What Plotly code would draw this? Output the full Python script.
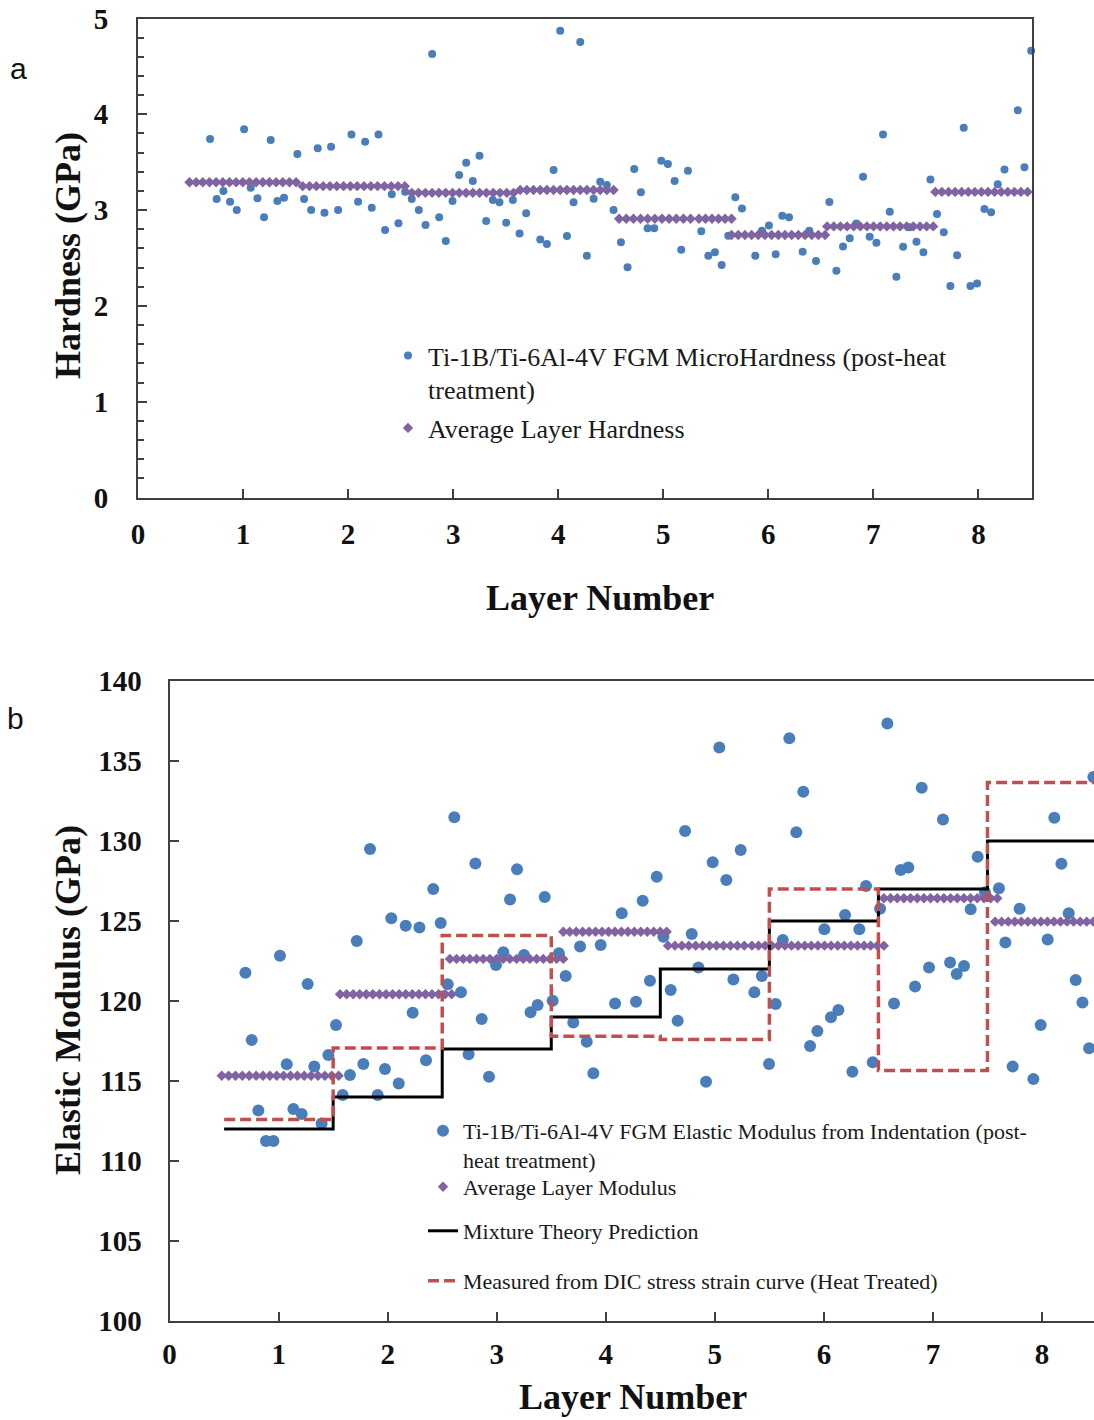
import numpy as np
import plotly.graph_objects as go

# ---------------- (a) micro-hardness ----------------
hard_x = [0.686, 0.749, 0.813, 0.876, 0.940, 1.010, 1.073, 1.137, 1.200, 1.263, 1.327, 1.390, 1.517,
          1.581, 1.648, 1.711, 1.775, 1.838, 1.905, 2.032, 2.095, 2.162, 2.225, 2.289, 2.352, 2.416, 2.479, 2.543,
          2.606, 2.673, 2.737, 2.800, 2.867, 2.930, 2.994, 3.057, 3.124, 3.187, 3.251, 3.314, 3.378, 3.441, 3.505, 3.568,
          3.632, 3.695, 3.829, 3.892, 3.956, 4.019, 4.083, 4.146, 4.210, 4.273, 4.337, 4.400, 4.463, 4.527,
          4.597, 4.660, 4.724, 4.787, 4.851, 4.914, 4.981, 5.044, 5.108, 5.171, 5.235, 5.362, 5.429, 5.492, 5.556, 5.619,
          5.686, 5.749, 5.876, 5.940, 6.006, 6.070, 6.133, 6.197, 6.327, 6.390, 6.454,
          6.581, 6.648, 6.711, 6.775, 6.838, 6.902, 6.965, 7.029, 7.092, 7.156, 7.219, 7.283, 7.346, 7.410, 7.476, 7.543,
          7.606, 7.670, 7.733, 7.797, 7.860, 7.924, 7.987, 8.057, 8.121, 8.184, 8.248, 8.375, 8.438, 8.502]
hard_y = [3.742, 3.116, 3.199, 3.088, 3.001, 3.843, 3.234, 3.123, 2.925, 3.732, 3.095, 3.130, 3.586,
          3.116, 3.001, 3.645, 2.973, 3.662, 3.001, 3.790, 3.088, 3.714, 3.025, 3.790, 2.792, 3.165, 2.862, 3.192,
          3.116, 3.001, 2.844, 4.629, 2.925, 2.678, 3.095, 3.366, 3.495, 3.304, 3.568, 2.886, 3.106, 3.081, 2.869, 3.106,
          2.757, 2.966, 2.694, 2.646, 3.418, 4.873, 2.729, 3.081, 4.754, 2.524, 3.119, 3.297, 3.262, 3.001,
          2.664, 2.403, 3.429, 3.186, 2.810, 2.810, 3.516, 3.481, 3.304, 2.587, 3.411, 2.779, 2.524, 2.559, 2.427, 2.733,
          3.133, 3.018, 2.524, 2.785, 2.838, 2.538, 2.942, 2.925, 2.566, 2.785, 2.468,
          3.085, 2.367, 2.621, 2.705, 2.860, 3.348, 2.722, 2.659, 3.790, 2.984, 2.305, 2.618, 2.820, 2.670, 2.559, 3.320,
          2.959, 2.768, 2.207, 2.528, 3.860, 2.207, 2.235, 3.012, 2.977, 3.269, 3.425, 4.041, 3.446, 4.664]

# layer averages: (first position, last position, number of indents, mean hardness)
hard_avg_start = [0.49, 1.568, 2.606, 3.638, 4.58, 5.34, 5.65, 6.56, 7.59]
hard_avg_end   = [1.505, 2.54, 3.575, 4.527, 5.26, 5.65, 6.54, 7.57, 8.53]
hard_avg_n     = [17, 16, 16, 15, 11, 6, 15, 17, 16]
hard_avg_val   = [3.29, 3.25, 3.18, 3.21, 2.91, 2.91, 2.74, 2.83, 3.19]

# ---------------- (b) elastic modulus ----------------
mod_x = [0.695, 1.012, 1.716, 1.838, 2.033, 2.165, 2.291, 2.418, 2.486, 2.611, 2.804, 3.122, 3.186, 3.440,
         3.060, 2.993, 3.250, 3.570, 3.632, 3.764, 3.953, 4.146,
         4.338, 4.467, 4.528, 4.727, 4.788, 4.849, 4.980, 5.041, 5.105, 5.170, 5.237, 5.431, 5.623, 5.683, 5.747,
         5.811, 6.004, 6.194, 6.325, 6.386, 6.515, 6.582, 6.704, 6.774, 6.897, 7.092, 7.346, 7.410, 7.477, 7.605,
         7.664, 7.795, 8.052, 8.113, 8.178, 8.245, 8.471,
         1.266, 0.753, 1.074, 1.327, 1.456, 0.814, 1.135, 1.211, 1.394, 0.884, 0.952, 1.526, 1.654, 1.587, 1.777,
         1.908, 1.975, 2.101, 2.229, 2.351, 2.550, 2.672, 2.742, 2.862, 2.929, 3.310, 3.375, 3.513, 3.702, 3.825,
         3.886, 4.085,
         4.277, 4.405, 4.595, 4.659, 5.362, 5.558, 5.497, 4.919, 5.873, 5.940, 6.065, 6.133, 6.261, 6.448, 6.643,
         6.836, 6.964, 7.157, 7.218, 7.285, 7.731, 7.921, 7.988, 8.309, 8.371, 8.432]
mod_y = [121.77, 122.83, 123.75, 129.5, 125.17, 124.71, 124.6, 127.0, 124.875, 131.48, 128.6, 126.35, 128.23, 126.5,
         123.04, 122.25, 122.875, 122.98, 121.56, 123.4, 123.5, 125.48,
         126.27, 127.77, 124.02, 130.625, 124.19, 122.10, 128.67, 135.85, 127.56, 121.35, 129.44, 121.56, 123.81, 136.42, 130.54,
         133.08, 124.48, 125.375, 124.48, 127.19, 125.77, 137.35, 128.19, 128.35, 133.33, 131.35, 125.73, 129.02, 126.79, 127.04,
         123.65, 125.77, 123.85, 131.46, 128.58, 125.48, 134.0,
         121.06, 117.56, 116.04, 115.9, 116.625, 113.15, 113.25, 112.94, 112.35, 111.25, 111.25, 118.5, 115.375, 114.125, 116.06,
         114.125, 115.75, 114.85, 119.27, 116.3, 121.04, 120.54, 116.67, 118.875, 115.27, 119.29, 119.75, 120.02, 118.65, 117.46,
         115.48, 119.85,
         119.96, 121.27, 120.69, 118.77, 120.54, 119.81, 116.06, 114.96, 117.19, 118.125, 118.98, 119.44, 115.58, 116.17, 119.85,
         120.9, 122.1, 122.4, 121.69, 122.19, 115.9, 115.125, 118.5, 121.31, 119.9, 117.04]

mod_avg_start = [0.478, 1.563, 2.57, 3.61, 4.57, 5.34, 6.55, 7.57]
mod_avg_end   = [1.55, 2.587, 3.61, 4.558, 5.27, 6.55, 7.59, 8.53]
mod_avg_n     = [18, 18, 18, 17, 12, 21, 18, 17]
mod_avg_val   = [115.33, 120.42, 122.63, 124.33, 123.46, 123.46, 126.42, 124.96]

layer_edges = [0.5, 1.5, 2.5, 3.5, 4.5, 5.5, 6.5, 7.5, 8.5]
mixture_theory = [112, 114, 117, 119, 122, 125, 127, 130]
dic_measured = [112.6, 117.06, 124.1, 117.8, 117.6, 127.0, 115.65, 133.65]

BLUE = "#4a7ebb"
PURPLE = "#8064a2"
RED = "#c0504d"
AXIS = "#404040"
SERIF = "Liberation Serif"


def spread(starts, ends, counts, values):
    xs, ys = [], []
    for s, e, n, v in zip(starts, ends, counts, values):
        xs.extend(np.linspace(s, e, n).tolist())
        ys.extend([v] * n)
    return xs, ys


ha_x, ha_y = spread(hard_avg_start, hard_avg_end, hard_avg_n, hard_avg_val)
ma_x, ma_y = spread(mod_avg_start, mod_avg_end, mod_avg_n, mod_avg_val)

fig = go.Figure()

fig.add_trace(go.Scatter(
    x=hard_x, y=hard_y, mode="markers", xaxis="x", yaxis="y",
    marker=dict(symbol="circle", size=8, color=BLUE),
    name="Ti-1B/Ti-6Al-4V FGM MicroHardness (post-heat<br>treatment)",
    legend="legend", showlegend=True, cliponaxis=False))
fig.add_trace(go.Scatter(
    x=ha_x, y=ha_y, mode="markers", xaxis="x", yaxis="y",
    marker=dict(symbol="diamond", size=8, color=PURPLE),
    name="Average Layer Hardness", legend="legend2", showlegend=True, cliponaxis=False))

fig.add_trace(go.Scatter(
    x=mod_x, y=mod_y, mode="markers", xaxis="x2", yaxis="y2",
    marker=dict(symbol="circle", size=12, color=BLUE),
    name="Ti-1B/Ti-6Al-4V FGM Elastic Modulus from Indentation (post-<br>heat treatment)",
    legend="legend3", showlegend=True))
fig.add_trace(go.Scatter(
    x=ma_x, y=ma_y, mode="markers", xaxis="x2", yaxis="y2",
    marker=dict(symbol="diamond", size=8, color=PURPLE),
    name="Average Layer Modulus", legend="legend4", showlegend=True))
fig.add_trace(go.Scatter(
    x=layer_edges, y=mixture_theory + [mixture_theory[-1]], mode="lines", xaxis="x2", yaxis="y2",
    line=dict(color="black", width=3, shape="hv"),
    name="Mixture Theory Prediction", legend="legend5", showlegend=True))
fig.add_trace(go.Scatter(
    x=layer_edges, y=dic_measured + [dic_measured[-1]], mode="lines", xaxis="x2", yaxis="y2",
    line=dict(color=RED, width=3.5, shape="hv", dash="11px,5px"),
    name="Measured from DIC stress strain curve (Heat Treated)", legend="legend6", showlegend=True))

W, H = 1094, 1420


def px(x):
    return x / W


def py(y):
    return 1 - y / H


tick_font = dict(family=SERIF, size=29, color="#111111", weight="bold")
axis_common = dict(showgrid=False, zeroline=False, showline=True, linecolor=AXIS, linewidth=2,
                   ticks="inside", ticklen=9, tickwidth=1.5, tickcolor=AXIS, tickfont=tick_font,
                   automargin=False)

fig.update_layout(
    width=W, height=H, margin=dict(l=0, r=0, t=0, b=0, autoexpand=False),
    paper_bgcolor="white", plot_bgcolor="white", showlegend=True,
    xaxis=dict(domain=[px(138), px(1032)], range=[0, 8.51], tick0=0, dtick=1, mirror=True,
               anchor="y", ticklabelstandoff=10, **axis_common),
    yaxis=dict(domain=[py(497.5), py(18.5)], range=[0, 5], tick0=0, dtick=1, mirror=True,
               anchor="x", ticklabelstandoff=22,
               minor=dict(dtick=0.2, ticks="inside", ticklen=6, tickwidth=1.5, tickcolor=AXIS),
               **axis_common),
    xaxis2=dict(domain=[px(169.6), 1.0], range=[0, (W - 169.6) / 109.05], tick0=0, dtick=1, mirror=True,
                anchor="y2", ticklabelstandoff=6, **axis_common),
    yaxis2=dict(domain=[py(1321), py(681)], range=[100, 140], tick0=100, dtick=5, mirror=True,
                anchor="x2", ticklabelstandoff=20, **axis_common),
)

legend_font_a = dict(family=SERIF, size=26, color="#1a1a1a")
legend_font_b = dict(family=SERIF, size=22, color="#1a1a1a")
leg_common = dict(bgcolor="rgba(0,0,0,0)", borderwidth=0, xanchor="left", valign="top",
                  itemclick=False, itemdoubleclick=False, visible=True)

fig.update_layout(
    legend=dict(x=px(388), y=py(332), yanchor="top", font=legend_font_a, **leg_common),
    legend2=dict(x=px(388), y=py(428), yanchor="middle", font=legend_font_a, **leg_common),
    legend3=dict(x=px(423), y=py(1110), yanchor="top", font=legend_font_b, **leg_common),
    legend4=dict(x=px(423), y=py(1187), yanchor="middle", font=legend_font_b, **leg_common),
    legend5=dict(x=px(423), y=py(1231), yanchor="middle", font=legend_font_b, **leg_common),
    legend6=dict(x=px(423), y=py(1281), yanchor="middle", font=legend_font_b, **leg_common),
)

title_font = dict(family=SERIF, size=36, color="#111111", weight="bold")
annotations = [
    dict(text="Layer Number", x=px(600), y=py(598), font=title_font),
    dict(text="Hardness (GPa)", x=px(68), y=py(256), textangle=-90, font=title_font),
    dict(text="Layer Number", x=px(633), y=py(1397), font=title_font),
    dict(text="Elastic Modulus (GPa)", x=px(68), y=py(1000), textangle=-90, font=title_font),
    dict(text="a", x=px(18), y=py(68), font=dict(family="Liberation Sans", size=30, color="#111111")),
    dict(text="b", x=px(15), y=py(718), font=dict(family="Liberation Sans", size=30, color="#111111")),
]
for a in annotations:
    a.update(xref="paper", yref="paper", showarrow=False, xanchor="center", yanchor="middle")
fig.update_layout(annotations=annotations)

fig.write_html("out.html")
